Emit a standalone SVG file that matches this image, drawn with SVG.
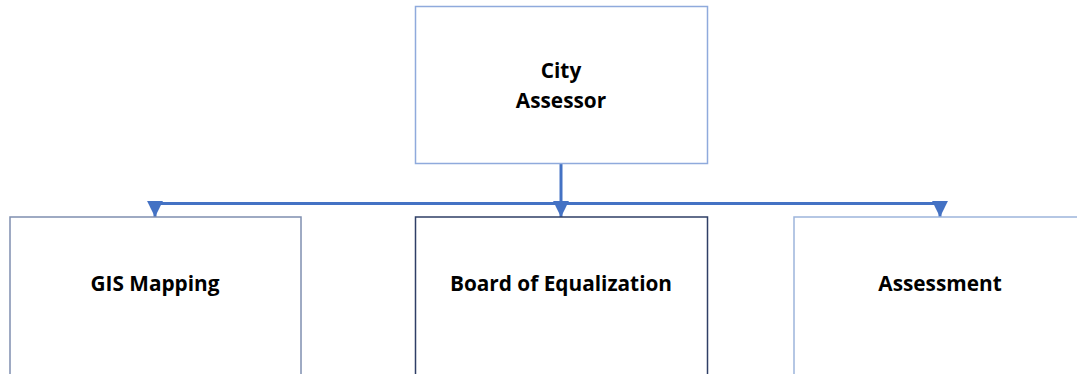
<svg xmlns="http://www.w3.org/2000/svg" width="1077" height="374" viewBox="0 0 1077 374">
<style>
.lbl{font-family:"Open Sans","Liberation Sans",sans-serif;font-weight:bold;font-size:20.8px;fill:#000;text-anchor:middle}
.con{stroke:#4472C4;stroke-width:3;fill:none}
</style>
<defs>
<marker id="ah" viewBox="0 0 10 10" refX="10" refY="5" markerWidth="5.3" markerHeight="5.3" orient="auto" markerUnits="strokeWidth">
<path d="M0,0 L10,5 L0,10 z" fill="#4472C4"/>
</marker>
</defs>
<rect width="1077" height="374" fill="#fff"/>
<g id="connectors">
<line class="con" x1="153.5" y1="203.5" x2="941.5" y2="203.5"/>
<line class="con" x1="561" y1="163" x2="561" y2="203"/>
<line class="con" x1="155" y1="203" x2="155" y2="217" marker-end="url(#ah)"/>
<line class="con" x1="561" y1="203" x2="561" y2="217" marker-end="url(#ah)"/>
<line class="con" x1="940" y1="203" x2="940" y2="217" marker-end="url(#ah)"/>
</g>
<g id="city-assessor">
<rect x="415.5" y="6.5" width="292" height="157" fill="#fff" stroke="#8FAADC" stroke-width="1.5"/>
<text class="lbl" x="561" y="78">City</text>
<text class="lbl" x="561" y="108">Assessor</text>
</g>
<g id="gis-mapping">
<rect x="10" y="217" width="291" height="170" fill="#fff" stroke="#7F8FB0" stroke-width="1.5"/>
<text class="lbl" x="155" y="291">GIS Mapping</text>
</g>
<g id="board-of-equalization">
<rect x="415.5" y="217" width="292" height="170" fill="#fff" stroke="#2F3F66" stroke-width="1.5"/>
<text class="lbl" x="561" y="291">Board of Equalization</text>
</g>
<g id="assessment">
<rect x="794" y="217" width="300" height="170" fill="#fff" stroke="#9DB5DC" stroke-width="1.5"/>
<text class="lbl" x="940" y="291">Assessment</text>
</g>
</svg>
